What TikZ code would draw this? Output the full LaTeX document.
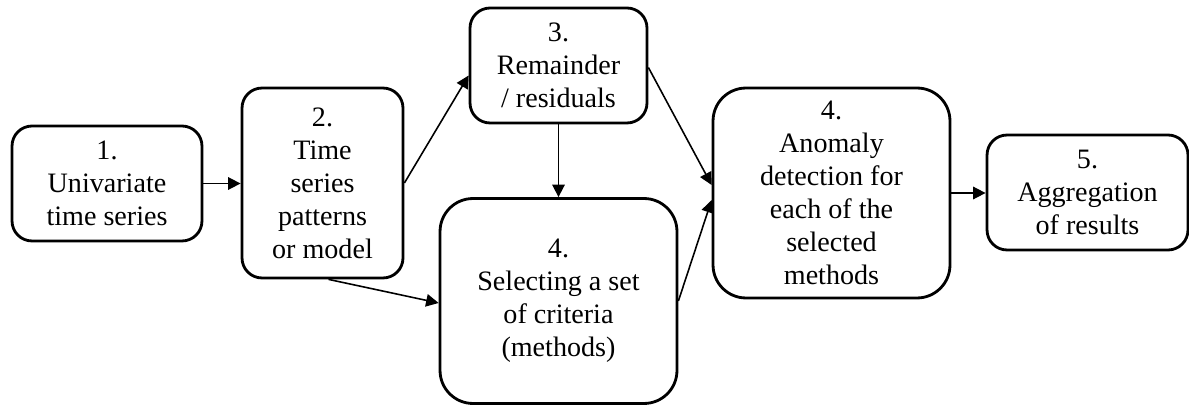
\documentclass[tikz,border=0pt]{standalone}
\usepackage{fontspec}
\setmainfont{Liberation Serif}
\usetikzlibrary{arrows.meta,calc}
\tikzset{
  stagebox/.style={
    draw=black,
    line width=1.6pt,
    rounded corners=0.40cm,
    align=center,
    inner sep=0pt,
    font=\fontsize{16}{18.8}\selectfont
  },
  bigbox/.style={
    stagebox,
    rounded corners=0.66cm
  },
  flow/.style={
    draw=black,
    line width=0.9pt,
    -{Triangle[length=2.5mm,width=2.5mm]}
  }
}
\begin{document}
\begin{tikzpicture}[x=0.02cm,y=-0.02cm]

  % Page frame with the proportions of the original figure (pixel units).
  \useasboundingbox (0,0) rectangle (1189,405);

  % Processing stages, placed at the centres of the original boxes.
  \node[stagebox,minimum width=3.80cm,minimum height=2.30cm]
    (series) at (107,183.5) {1.\\Univariate\\time series};
  \node[stagebox,minimum width=3.22cm,minimum height=3.80cm]
    (patterns) at (322.5,183) {2.\\Time\\series\\patterns\\or model};
  \node[stagebox,minimum width=3.54cm,minimum height=2.30cm]
    (residuals) at (558.5,65.5) {3.\\Remainder\\/ residuals};
  \node[bigbox,minimum width=4.74cm,minimum height=4.10cm]
    (criteria) at (558.5,301) {4.\\Selecting a set\\of criteria\\(methods)};
  \node[bigbox,minimum width=4.74cm,minimum height=4.20cm]
    (anomaly) at (831.5,193) {4.\\Anomaly\\detection for\\each of the\\selected\\methods};
  \node[stagebox,minimum width=4.02cm,minimum height=2.30cm]
    (aggregate) at (1087.5,192.5) {5.\\Aggregation\\of results};

  % Connectors between the stages.
  \draw[flow] (series.east) -- (series.east -| patterns.west);
  \draw[flow] (patterns.east) -- ($(residuals.west)+(0,10)$);
  \draw[flow] ($(patterns.south)+(6,0)$) -- ($(criteria.west)+(0,2)$);
  \draw[flow] (residuals.south) -- (criteria.north);
  \draw[flow] ($(residuals.east)+(0,2)$) -- ($(anomaly.west)+(0,-8)$);
  \draw[flow] (criteria.east) -- ($(anomaly.west)+(0,7)$);
  \draw[flow] (anomaly.east) -- (anomaly.east -| aggregate.west);

\end{tikzpicture}
\end{document}
